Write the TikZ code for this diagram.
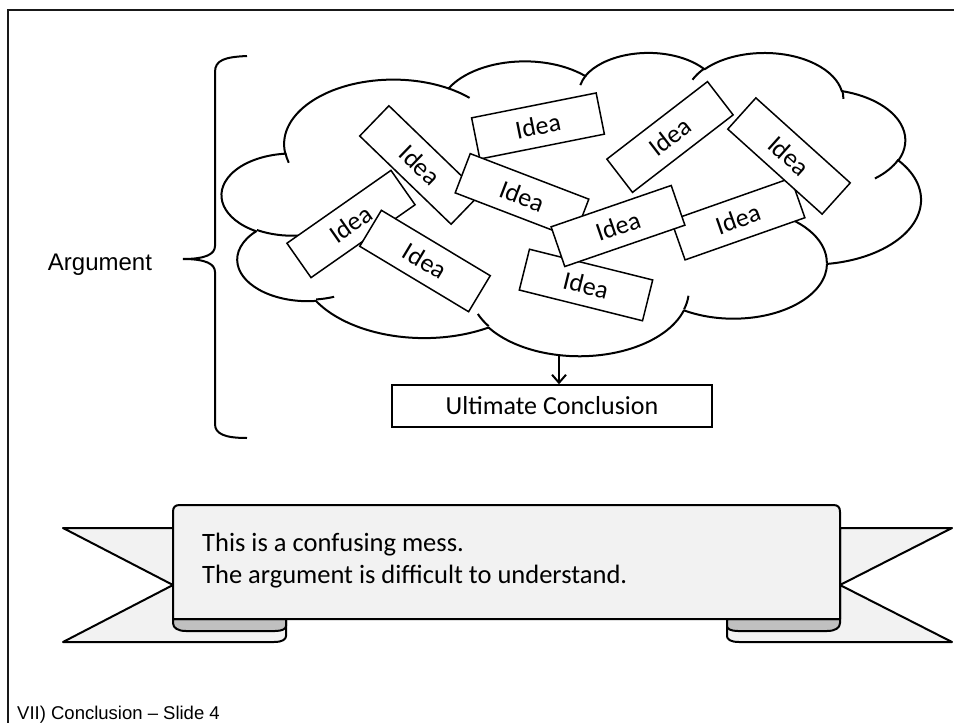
\documentclass[tikz,border=0pt]{standalone}
\usepackage{fontspec}
\setmainfont{Carlito}
\newfontfamily\arialf{Liberation Sans}
\usetikzlibrary{arrows.meta}
\definecolor{ribfill}{HTML}{F2F2F2}
\definecolor{foldfill}{HTML}{C0C0C0}
\newcommand\csx{0.016181}
\newcommand\csy{0.0070139}
\newcommand\csxk{16.181}
\newcommand\csyk{7.0139}
\newcommand\cox{222}
\newcommand\coy{52}
\tikzset{
  carc/.style n args={4}{insert path={arc[start angle={-atan2(#1*sin(#3),#2*cos(#3))},
     delta angle={-mod(atan2(#1*sin(#3+#4),#2*cos(#3+#4))-atan2(#1*sin(#3),#2*cos(#3))+720,360)},
     x radius={#1*\csx}, y radius={#2*\csy}]}},
  frameline/.style={line width=2.5pt, color=black!90},
  cloudline/.style={line width=2pt, line join=round},
  idea/.style={draw, line width=1.5pt, fill=white, minimum width=127pt, minimum height=42pt,
     inner sep=0pt, font=\fontsize{26}{30}\selectfont},
  concl/.style={draw, line width=1.5pt, fill=white, minimum width=320pt, minimum height=42pt,
     inner sep=0pt, font=\fontsize{26}{30}\selectfont},
  bracel/.style={line width=2pt},
  ribbon/.style={draw, line width=2pt, fill=ribfill, line join=round},
  fold/.style={draw, line width=2pt, fill=foldfill, line join=round},
  ribtext/.style={anchor=base west, inner sep=0pt, font=\fontsize{26.5}{32}\selectfont},
  arr/.style={line width=2pt, -{Straight Barb[length=8pt,width=14pt,line width=2pt]}}
}
\begin{document}
\begin{tikzpicture}[x=1pt,y=1pt]
\useasboundingbox (0,0) rectangle (954,-723);
\clip (0,0) rectangle (954,-723);
% frame
\draw[frameline] (8,-723) -- (8,-10) -- (960,-10);
% brace
\draw[bracel] (247,-56) .. controls (225,-57) and (215,-60) .. (215,-72) -- (215,-246)
  .. controls (215,-254) and (206,-259) .. (183,-259)
  .. controls (206,-259) and (215,-264) .. (215,-272) -- (215,-424)
  .. controls (215,-434) and (225,-438) .. (247,-438);
\node[font=\arialf\fontsize{24}{28}\selectfont, anchor=base, inner sep=0pt] (arg) at (100,-270) {Argument};
% cloud
\draw[cloudline, fill=white] ({\cox+3.900*\csxk},{-(\coy+14.370*\csyk)})
 [carc={6753}{9190}{-190.4875}{123.7805}]
 [carc={5333}{7267}{-144.1024}{89.9452}]
 [carc={4365}{5945}{-145.8079}{99.7230}]
 [carc={4857}{6595}{-130.9861}{117.2417}]
 [carc={5333}{7273}{-78.7089}{109.0269}]
 [carc={6775}{9220}{-46.2673}{130.2690}]
 [carc={5785}{7867}{0.6250}{114.0333}]
 [carc={6752}{9215}{22.4516}{115.1726}]
 [carc={7720}{10543}{66.2426}{75.7110}]
 [carc={4360}{5918}{-274.9421}{146.7356}]
 [carc={4345}{5945}{-246.8285}{152.5189}]
 -- cycle;
\draw[cloudline] ({\cox+4.693*\csxk},{-(\coy+26.177*\csyk)}) [carc={4345}{5945}{86.7420}{26.4295}];
\draw[cloudline] ({\cox+6.928*\csxk},{-(\coy+34.899*\csyk)}) [carc={4360}{5918}{73.6105}{11.4475}];
\draw[cloudline] ({\cox+16.478*\csxk},{-(\coy+39.090*\csyk)}) [carc={6752}{9215}{137.6242}{14.0811}];
\draw[cloudline] ({\cox+28.827*\csxk},{-(\coy+34.751*\csyk)}) [carc={6752}{9215}{6.4533}{15.9984}];
\draw[cloudline] ({\cox+34.129*\csxk},{-(\coy+22.954*\csyk)}) [carc={5785}{7867}{-70.2924}{70.9174}];
\draw[cloudline] ({\cox+41.798*\csxk},{-(\coy+15.354*\csyk)}) [carc={5333}{7273}{30.3180}{27.7515}];
\draw[cloudline] ({\cox+38.324*\csxk},{-(\coy+5.426*\csyk)}) [carc={4857}{6595}{-13.7443}{14.8589}];
\draw[cloudline] ({\cox+29.078*\csxk},{-(\coy+3.952*\csyk)}) [carc={4857}{6595}{-149.1815}{18.1954}];
\draw[cloudline] ({\cox+22.141*\csxk},{-(\coy+4.720*\csyk)}) [carc={4365}{5945}{-163.4943}{17.6864}];
\draw[cloudline] ({\cox+14.000*\csxk},{-(\coy+5.192*\csyk)}) [carc={6753}{9190}{-66.7070}{12.3194}];
\draw[cloudline] ({\cox+4.127*\csxk},{-(\coy+15.789*\csyk)}) [carc={6753}{9190}{158.8400}{11.8539}];
% ideas
\node[idea, rotate=11.3] (ia) at (538,-126) {Idea};
\node[idea, rotate=-44] (ib) at (420,-165) {Idea};
\node[idea, rotate=-21] (ic) at (522,-196) {Idea};
\node[idea, rotate=35] (id) at (351,-224) {Idea};
\node[idea, rotate=-31] (ie) at (425,-261) {Idea};
\node[idea, rotate=-14] (if) at (586,-285) {Idea};
\node[idea, rotate=19.4] (ih) at (738,-219) {Idea};
\node[idea, rotate=19] (ig) at (618,-226) {Idea};
\node[idea, rotate=-42] (ii) at (789,-156) {Idea};
\node[idea, rotate=37.6] (ij) at (670,-137) {Idea};
% conclusion
\node[concl] (uc) at (552,-406) {Ultimate Conclusion};
\coordinate (cloudbot) at (559,-354);
\draw[arr] (cloudbot) -- (cloudbot |- uc.north);
% ribbon
\draw[ribbon] (173,-528) -- (63,-528) -- (173,-585) -- (63,-642) -- (274,-642)
  .. controls (283,-642) and (286,-639) .. (286,-636) -- (286,-619) -- (173,-619) -- cycle;
\draw[ribbon] (840,-528) -- (952,-528) -- (840,-585) -- (952,-642) -- (739,-642)
  .. controls (730,-642) and (727,-639) .. (727,-636) -- (727,-619) -- (840,-619) -- cycle;
\draw[fold] (173,-619) -- (286,-619) -- (286,-626) .. controls (286,-629) and (282,-631) .. (275,-631)
  -- (186,-631) .. controls (178,-631) and (173,-628) .. (173,-623) -- cycle;
\draw[fold] (840,-619) -- (727,-619) -- (727,-626) .. controls (727,-629) and (731,-631) .. (738,-631)
  -- (827,-631) .. controls (835,-631) and (840,-628) .. (840,-623) -- cycle;
\draw[ribbon] (173,-619) -- (173,-512) .. controls (173,-507) and (175,-505) .. (180,-505)
  -- (833,-505) .. controls (838,-505) and (840,-507) .. (840,-512) -- (840,-619) -- cycle;
\node[ribtext] (r1) at (202,-551) {This is a confusing mess.};
\node[ribtext] (r2) at (202,-583) {The argument is difficult to understand.};
% footer
\node[font=\arialf\fontsize{18.5}{22}\selectfont, anchor=base west, inner sep=0pt] (foot) at (17,-719) {VII) Conclusion – Slide 4};
\end{tikzpicture}
\end{document}
